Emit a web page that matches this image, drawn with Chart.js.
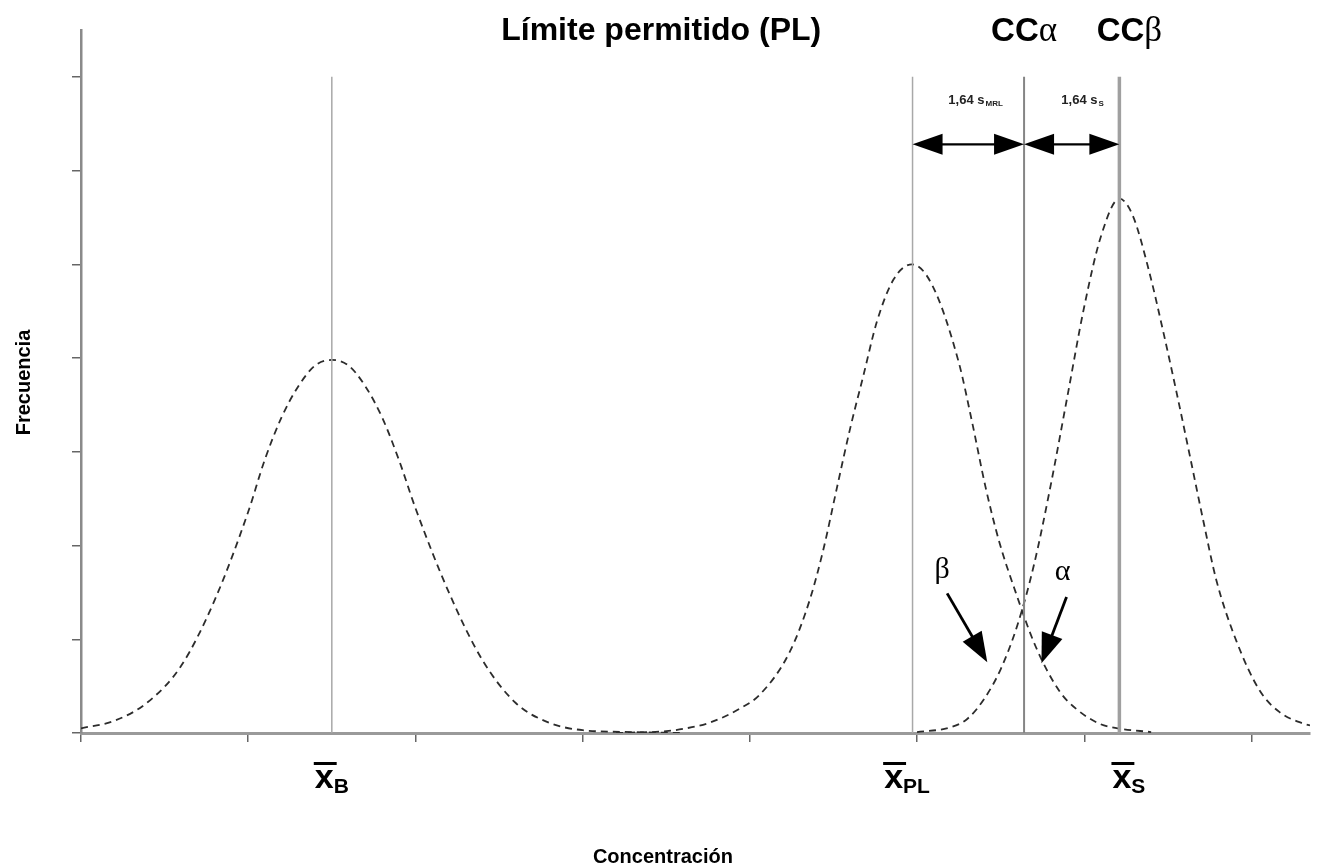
<!DOCTYPE html>
<html><head><meta charset="utf-8">
<script src="https://cdn.jsdelivr.net/npm/chart.js@4.4.1/dist/chart.umd.min.js"></script>
<style>html,body{margin:0;padding:0;background:#fff;} #wrap{width:1328px;height:867px;position:relative;}</style>
</head><body><div id="wrap"><canvas id="c"></canvas></div>
<script>
// ---- axis extents ----
const xMin = 0, xMax = 7.35;
const yMin = 0, yMax = 7.5;

// ---- curve: blank / B ----
const curveBX = [0,0.2,0.4,0.6,0.8,1.0,1.1,1.2,1.3,1.4,1.5,1.6,1.7,1.8,1.9,2.0,2.2,2.4,2.6,2.8,3.0,3.3,3.6];
const curveBY = [0.05,0.13,0.33,0.72,1.42,2.36,2.92,3.37,3.70,3.92,3.98,3.92,3.70,3.37,2.92,2.40,1.50,0.78,0.32,0.11,0.03,0.01,0];

// ---- curve: permitted limit PL ----
const curvePLX = [3.2,3.5,3.62,3.76,3.94,4.06,4.24,4.36,4.44,4.52,4.60,4.68,4.76,4.86,4.97,5.09,5.25,5.33,5.41,5.49,5.59,5.71,5.85,5.95,6.09,6.2,6.4];
const curvePLY = [0,0.02,0.05,0.11,0.26,0.41,0.87,1.43,1.96,2.61,3.25,3.82,4.39,4.84,5.0,4.78,3.95,3.31,2.62,2.05,1.50,0.92,0.45,0.26,0.10,0.05,0.01];

// ---- curve: S ----
const curveSX = [5.0,5.2,5.3,5.4,5.5,5.6,5.7,5.8,5.9,6.0,6.1,6.21,6.29,6.39,6.47,6.55,6.63,6.71,6.79,6.91,7.05,7.17,7.31,7.35];
const curveSY = [0.01,0.06,0.15,0.36,0.68,1.15,1.80,2.65,3.60,4.55,5.30,5.70,5.52,4.91,4.30,3.65,2.97,2.28,1.63,0.98,0.45,0.22,0.10,0.08];

// ---- vertical reference lines: xB, xPL, CCalpha, xS ----
const refLineX = [1.5, 4.973, 5.64, 6.21];
const refLineTop = 7;
const refLineColor = ['#a8a8a8','#a8a8a8','#858585','#a0a0a0'];
const refLineWidth = [1.5, 1.5, 2, 3.5];

// ---- dimension arrows (1,64 s) ----
const dimFrom = [4.973, 5.64];
const dimTo   = [5.64, 6.21];
const dimY = 6.28;
const dimLabelMain = ['1,64 s', '1,64 s'];
const dimLabelSub  = ['MRL', 'S'];
const dimLabelX = [5.35, 5.99];
const dimLabelY = 6.77;

// ---- greek pointer arrows ----
const ptrText = ['\u03B2', '\u03B1'];
const ptrTextX = [5.15, 5.87];
const ptrTextY = [1.74, 1.72];
const ptrFromX = [5.18, 5.894];
const ptrFromY = [1.49, 1.45];
const ptrToX = [5.42, 5.744];
const ptrToY = [0.755, 0.745];

// ---- category labels below axis ----
const barLabelSub = ['B', 'PL', 'S'];
const barLabelX = [1.5, 4.94, 6.267];

// ---- header texts ----
const headerText = 'L\u00EDmite permitido (PL)';
const headerX = 3.47;
const ccLabels = [['CC','\u03B1'], ['CC','\u03B2']];
const ccLabelX = [5.64, 6.27];
const xTitle = 'Concentraci\u00F3n';
const yTitle = 'Frecuencia';
const titleX = 3.48;

const toPts = (xs, ys) => xs.map((v,i)=>({x:v, y:ys[i]}));

const curveStyle = {borderColor:'#2c2c2c', borderWidth:1.8, borderDash:[7,5], pointRadius:0, fill:false, cubicInterpolationMode:'monotone'};

const datasets = [];
refLineX.forEach((v,i)=>{
  datasets.push({data:[{x:v,y:0},{x:v,y:refLineTop}], borderColor:refLineColor[i], borderWidth:refLineWidth[i], pointRadius:0, fill:false});
});
datasets.push(Object.assign({data:toPts(curveBX,curveBY)}, curveStyle));
datasets.push(Object.assign({data:toPts(curvePLX,curvePLY)}, curveStyle));
datasets.push(Object.assign({data:toPts(curveSX,curveSY)}, curveStyle));

const SANS = '"Liberation Sans", Arial, Helvetica, sans-serif';
const SERIF = '"Liberation Serif", "Times New Roman", serif';

function arrowHead(ctx, tx, ty, fx, fy, len, hw){
  const a = Math.atan2(ty-fy, tx-fx);
  const bx = tx - len*Math.cos(a), by = ty - len*Math.sin(a);
  ctx.beginPath();
  ctx.moveTo(tx,ty);
  ctx.lineTo(bx + hw*Math.sin(a), by - hw*Math.cos(a));
  ctx.lineTo(bx - hw*Math.sin(a), by + hw*Math.cos(a));
  ctx.closePath();
  ctx.fill();
}

const annot = {
  id:'annot',
  afterDraw(chart){
    const ctx = chart.ctx, xs = chart.scales.x, ys = chart.scales.y;
    const px = v=>xs.getPixelForValue(v), py = v=>ys.getPixelForValue(v);
    ctx.save();
    ctx.fillStyle = '#000'; ctx.strokeStyle = '#000';
    // dimension arrows
    for (let i=0;i<dimFrom.length;i++){
      const a = px(dimFrom[i]), b = px(dimTo[i]), y = py(dimY);
      ctx.lineWidth = 2.2;
      ctx.beginPath(); ctx.moveTo(a+20,y); ctx.lineTo(b-20,y); ctx.stroke();
      arrowHead(ctx, a, y, b, y, 30, 10.5);
      arrowHead(ctx, b, y, a, y, 30, 10.5);
      const mainF = 'bold 13px '+SANS, subF = 'bold 8px '+SANS;
      ctx.font = mainF; const w1 = ctx.measureText(dimLabelMain[i]).width;
      ctx.font = subF; const w2 = ctx.measureText(dimLabelSub[i]).width;
      const cx = px(dimLabelX[i]), ly = py(dimLabelY);
      const left = cx - (w1+w2+1)/2;
      ctx.textBaseline = 'alphabetic'; ctx.textAlign = 'left';
      ctx.fillStyle = '#222';
      ctx.font = mainF; ctx.fillText(dimLabelMain[i], left, ly+6);
      ctx.font = subF; ctx.fillText(dimLabelSub[i], left+w1+1, ly+8);
      ctx.fillStyle = '#000';
    }
    // greek pointers
    for (let i=0;i<ptrText.length;i++){
      const fx = px(ptrFromX[i]), fy = py(ptrFromY[i]), tx = px(ptrToX[i]), ty = py(ptrToY[i]);
      const a = Math.atan2(ty-fy, tx-fx);
      ctx.lineWidth = 2.8;
      ctx.beginPath(); ctx.moveTo(fx,fy); ctx.lineTo(tx-22*Math.cos(a), ty-22*Math.sin(a)); ctx.stroke();
      arrowHead(ctx, tx, ty, fx, fy, 30, 11);
      ctx.font = '30px '+SERIF; ctx.textAlign='center'; ctx.textBaseline='middle';
      ctx.fillText(ptrText[i], px(ptrTextX[i]), py(ptrTextY[i]));
    }
    // header
    ctx.textBaseline = 'alphabetic';
    ctx.font = 'bold 32px '+SANS; ctx.textAlign='center';
    ctx.fillText(headerText, px(headerX), chart.chartArea.top + 10);
    for (let i=0;i<ccLabels.length;i++){
      const f1 = 'bold 33px '+SANS, f2 = '35px '+SERIF;
      ctx.font = f1; const w1 = ctx.measureText(ccLabels[i][0]).width;
      ctx.font = f2; const w2 = ctx.measureText(ccLabels[i][1]).width;
      const left = px(ccLabelX[i]) - (w1+w2)/2;
      ctx.textAlign='left';
      ctx.font = f1; ctx.fillText(ccLabels[i][0], left, chart.chartArea.top + 11);
      ctx.font = f2; ctx.fillText(ccLabels[i][1], left+w1, chart.chartArea.top + 11);
    }
    // x-bar labels
    const base = chart.chartArea.bottom + 55;
    for (let i=0;i<barLabelSub.length;i++){
      const f1 = 'bold 34px '+SANS, f2 = 'bold 21px '+SANS;
      ctx.font = f1; const w1 = ctx.measureText('x').width;
      ctx.font = f2; const w2 = ctx.measureText(barLabelSub[i]).width;
      const left = px(barLabelX[i]) - (w1+w2)/2;
      ctx.textAlign='left';
      ctx.font = f1; ctx.fillText('x', left, base);
      ctx.font = f2; ctx.fillText(barLabelSub[i], left+w1, base+5);
      ctx.fillRect(left-1, base-26, w1+4, 3);
    }
    // axis titles
    ctx.font = 'bold 20px '+SANS; ctx.textAlign='center'; ctx.textBaseline='middle';
    ctx.fillText(xTitle, px(titleX), chart.chartArea.bottom + 124);
    ctx.save();
    ctx.translate(24, (chart.chartArea.top+chart.chartArea.bottom)/2 + 1);
    ctx.rotate(-Math.PI/2);
    ctx.fillText(yTitle, 0, 0);
    ctx.restore();
    ctx.restore();
  }
};

new Chart(document.getElementById('c'), {
  type:'line',
  data:{datasets},
  options:{
    responsive:true, maintainAspectRatio:false, animation:false,
    layout:{padding:{left:72, top:30, right:18, bottom:125}},
    plugins:{legend:{display:false}, tooltip:{enabled:false}, title:{display:false}},
    scales:{
      x:{type:'linear', min:xMin, max:xMax,
         ticks:{display:false, stepSize:1, includeBounds:false},
         grid:{display:true, drawOnChartArea:false, drawTicks:true, tickLength:9, color:'#666', lineWidth:1.5},
         border:{display:true, color:'#9a9a9a', width:3}},
      y:{type:'linear', min:yMin, max:yMax,
         ticks:{display:false, stepSize:1, includeBounds:false},
         grid:{display:true, drawOnChartArea:false, drawTicks:true, tickLength:9, color:'#666', lineWidth:1.5},
         border:{display:true, color:'#8a8a8a', width:2.5}}
    }
  },
  plugins:[annot]
});
</script></body></html>
